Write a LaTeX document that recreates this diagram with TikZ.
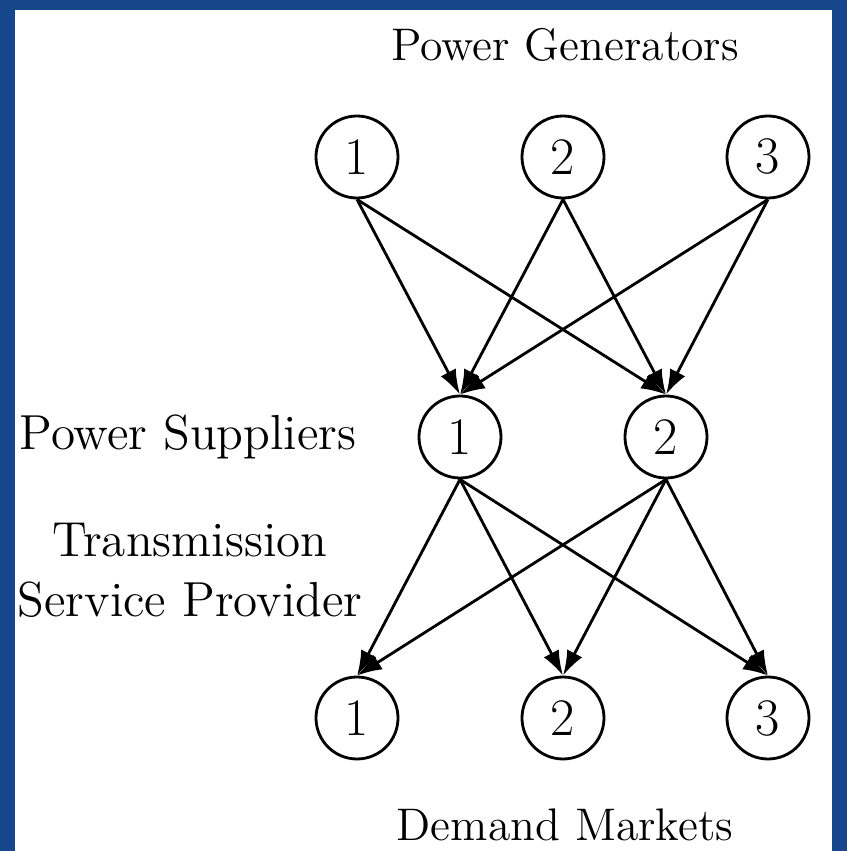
\documentclass[tikz,border=0pt]{standalone}
\usepackage{xcolor}
\usepackage{tikz}
\usetikzlibrary{arrows.meta}

\definecolor{slideblue}{RGB}{22,70,140}

\begin{document}
\begin{tikzpicture}[
		agent/.style={circle, draw, thick, minimum size=0.82cm, inner sep=0pt, font=\fontsize{15}{18}\selectfont},
		lbl/.style={font=\fontsize{13}{16}\selectfont, align=center},
		sidelbl/.style={font=\fontsize{14}{17}\selectfont, align=center},
		flow/.style={-{Latex[length=2.5mm, width=1.7mm]}, thick}
	]
		\useasboundingbox (0,0) rectangle (8.47,8.51);
		\fill[slideblue] (0,0) rectangle (8.47,8.51);
		\fill[white] (0.15,0) rectangle (8.32,8.41);

		% generators
		\node[agent] at (3.57, 6.94) (g1) {1};
		\node[agent] at (5.63, 6.94) (g2) {2};
		\node[agent] at (7.68, 6.94) (g3) {3};

		% suppliers
		\node[agent] at (4.60, 4.14) (s1) {1};
		\node[agent] at (6.66, 4.14) (s2) {2};

		% markets
		\node[agent] at (3.57, 1.33) (m1) {1};
		\node[agent] at (5.63, 1.33) (m2) {2};
		\node[agent] at (7.68, 1.33) (m3) {3};

		\node[lbl] at (5.65, 8.06) (gen) {Power Generators};
		\node[sidelbl] at (1.88, 4.14) (sup) {Power Suppliers};
		\node[sidelbl] at (1.90, 2.81) (tsp) {Transmission\\Service Provider};
		\node[lbl] at (5.65, 0.26) (dem) {Demand Markets};

		\foreach \g in {1,2,3}
			\foreach \s in {1,2}
				\draw[flow] (g\g.south) -- (s\s.north);
		\foreach \s in {1,2}
			\foreach \m in {1,2,3}
				\draw[flow] (s\s.south) -- (m\m.north);
	\end{tikzpicture}
\end{document}
